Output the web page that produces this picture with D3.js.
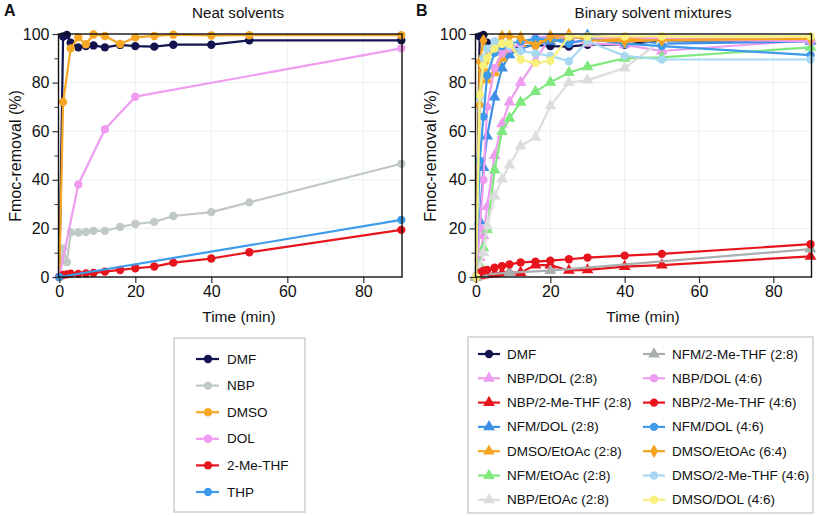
<!DOCTYPE html>
<html><head><meta charset="utf-8">
<script src="https://cdn.jsdelivr.net/npm/d3@7"></script>
<style>body{margin:0;background:#fff}svg{display:block;font-family:"Liberation Sans",Arial,sans-serif}</style>
</head><body><svg id="c" width="817" height="516"></svg>
<script>
// ---- data ----
const times = [0,1,2,3,5,7,9,12,16,20,25,30,40,50,90];
const xTicks = [0,20,40,60,80];
const yTicks = [0,20,40,60,80,100];
const yMinor = [10,30,50,70,90];

// Panel A: neat solvents
const namesA = ["DMF","NBP","DMSO","DOL","2-Me-THF","THP"];
const dmfA  = [0,99,99.6,96.4,94.5,95,95.3,94.5,95.5,95,94.8,95.6,95.6,97.4,97.4];
const nbpA  = [0,11.8,6.1,18.3,18.3,18.5,19,19,20.6,21.8,22.7,25.1,26.7,30.7,46.6];
const dmsoA = [0,72,null,94.1,98.6,95.8,99.8,99.2,95.9,98.6,99.2,99.7,99.4,99.5,99.5];
const dolA  = [0,null,null,null,38.1,null,null,60.8,null,74.2,null,null,null,null,94.1];
const mthfA = [0,0.8,1.1,1.4,1.3,1.5,1.7,2.2,2.9,3.6,4.3,5.9,7.6,10.2,19.4];
const thpA  = [0,null,null,null,null,null,null,null,null,null,null,null,null,null,23.5];
const colorsA = ["#13134f","#c0c9c5","#f5a623","#ee9cf0","#e8141c","#3d9be9"];
const valuesA = [dmfA,nbpA,dmsoA,dolA,mthfA,thpA];

// Panel B: binary mixtures
const namesB = ["DMF","NBP/DOL (2:8)","NBP/2-Me-THF (2:8)","NFM/DOL (2:8)","DMSO/EtOAc (2:8)","NFM/EtOAc (2:8)","NBP/EtOAc (2:8)",
                "NFM/2-Me-THF (2:8)","NBP/DOL (4:6)","NBP/2-Me-THF (4:6)","NFM/DOL (4:6)","DMSO/EtOAc (6:4)","DMSO/2-Me-THF (4:6)","DMSO/DOL (4:6)"];
const dmfB        = [0,99,99.6,96.4,94.5,95,95.3,94.5,95.5,95,94.8,95.6,95.6,97.4,97.4];
const nbpDol28    = [0,8,17,29,50,63,72,80,89,99,97.5,96.2,95.5,93,97.5];
const nbpMthf28   = [0,0.5,0.8,1,1.3,1.6,1.9,1.8,4.9,4.9,2.7,2.9,4.3,4.9,8.5];
const nfmDol28    = [0,23,45,58,74,86,91.4,94,96,97,98,99.5,98,96,97];
const dmsoEtoac28 = [0,71,86,81,84,90,94,96,97,98,99,98,98,98,98];
const nfmEtoac28  = [0,5,12,19.5,44,59.8,65.3,71.9,76.3,80.1,84.1,86.5,90,90.4,94.5];
const nbpEtoac28  = [0,4,10,21,33.3,40.3,46.1,53.9,57.5,70.4,80,81,86,97.5,98];
const nfmMthf28   = [0,null,1,null,null,null,1.8,null,null,2.6,null,null,null,null,11.5];
const nbpDol46    = [0,20,40,70,86,92,94,96,98.5,99,99,98,99,98,97];
const nbpMthf46   = [0,1.8,2.6,2.9,3.8,4.5,5.2,6,6.3,6.7,7.3,8,8.8,9.5,13.5];
const nfmDol46    = [0,48,66,83,92.3,95,96,97,98,98,96,98,96,95,91.3];
const dmsoEtoac64 = [0,88.6,97.3,89.6,95.6,99,99,98.6,94.8,99,99.7,97.5,97,97.5,98];
const dmsoMthf46  = [0,74,90,94,97,96,95,93,92,91,88.8,97,91,89.5,89.5];
const dmsoDol46   = [0,75,87,90,94,96,96,89.5,88,89,99,99,99,99,99];
const valuesB = [dmfB,nbpDol28,nbpMthf28,nfmDol28,dmsoEtoac28,nfmEtoac28,nbpEtoac28,nfmMthf28,nbpDol46,nbpMthf46,nfmDol46,dmsoEtoac64,dmsoMthf46,dmsoDol46];
const colorsB = ["#13134f","#ee9cf0","#e8141c","#3d8fe6","#f5a623","#7fe87f","#dcdede","#a9afae","#ee9cf0","#e8141c","#3d9be9","#f5a31e","#a9d8f2","#f7f07c"];
const shapesB = ["circle","triangle","triangle","triangle","triangle","triangle","triangle","triangle","circle","circle","circle","diamond","circle","circle"];

const svg = d3.select("#c");
svg.append("rect").attr("width",817).attr("height",516).attr("fill","#fff");

const symType = {circle:d3.symbolCircle, triangle:d3.symbolTriangle, diamond:d3.symbolDiamond};
const symSize = {circle:55, triangle:60, diamond:55};

function panel(cfg){
  const x = d3.scaleLinear().domain([0,90]).range([cfg.x0, cfg.x90]);
  const y = d3.scaleLinear().domain([0,100]).range([277,34]);
  const g = svg.append("g");
  g.selectAll(".gx").data(xTicks.slice(1)).join("line")
    .attr("x1",d=>x(d)).attr("x2",d=>x(d)).attr("y1",34).attr("y2",277)
    .attr("stroke","#e9eff6").attr("stroke-width",1);
  g.selectAll(".gy").data(yTicks.slice(1,-1)).join("line")
    .attr("x1",cfg.x0).attr("x2",cfg.right).attr("y1",d=>y(d)).attr("y2",d=>y(d))
    .attr("stroke","#e9eff6").attr("stroke-width",1);
  cfg.values.forEach((vals,i)=>{
    const pts = times.map((t,j)=>[t,vals[j]]).filter(p=>p[1]!=null);
    g.append("path").datum(pts)
      .attr("d", d3.line().x(p=>x(p[0])).y(p=>y(p[1])))
      .attr("fill","none").attr("stroke",cfg.colors[i]).attr("stroke-width",2.2).attr("stroke-linejoin","round");
    const sh = cfg.shapes ? cfg.shapes[i] : "circle";
    g.selectAll(null).data(pts).join("path")
      .attr("d", d3.symbol(symType[sh], symSize[sh]))
      .attr("transform", p=>`translate(${x(p[0])},${y(p[1])})`)
      .attr("fill", cfg.colors[i]);
  });
  const ax = g.append("g").attr("transform","translate(0,277)")
    .call(d3.axisBottom(x).tickValues(xTicks).tickSize(6).tickPadding(3));
  const ay = g.append("g").attr("transform",`translate(${cfg.left},0)`)
    .call(d3.axisLeft(y).tickValues(yTicks).tickSize(6).tickPadding(3));
  g.append("g").attr("transform",`translate(${cfg.left},0)`)
    .call(d3.axisLeft(y).tickValues(yMinor).tickSize(4).tickFormat(""))
    .call(s=>s.select(".domain").remove()).selectAll("line").attr("stroke","#333");
  [ax,ay].forEach(a=>{
    a.select(".domain").remove();
    a.selectAll("line").attr("stroke","#333").attr("stroke-width",1.2);
    a.selectAll("text").attr("font-size",16).attr("fill","#111").attr("font-family","Liberation Sans, Arial, sans-serif");
  });
  g.append("rect").attr("x",cfg.left).attr("y",34).attr("width",cfg.right-cfg.left).attr("height",243)
    .attr("fill","none").attr("stroke","#111").attr("stroke-width",1.4);
  g.append("text").attr("x",cfg.titleX).attr("y",18).attr("text-anchor","middle").attr("font-size",15.2).attr("fill","#111").text(cfg.title);
  g.append("text").attr("x",cfg.letterX).attr("y",16).attr("font-size",16).attr("font-weight","bold").attr("fill","#111").text(cfg.letter);
  g.append("text").attr("transform",`translate(${cfg.ylabX},156) rotate(-90)`).attr("text-anchor","middle")
    .attr("dominant-baseline","central").attr("font-size",16).attr("fill","#111").text("Fmoc-removal (%)");
  g.append("text").attr("x",cfg.xlabX).attr("y",322).attr("text-anchor","middle").attr("font-size",15.5).attr("fill","#111").text("Time (min)");
}

panel({x0:59.3, x90:401.3, left:58.5, right:402, values:valuesA, colors:colorsA, title:"Neat solvents", titleX:238, letter:"A", letterX:4, ylabX:15, xlabX:239});
panel({x0:476, x90:810.5, left:475.5, right:811.5, values:valuesB, colors:colorsB, shapes:shapesB, title:"Binary solvent mixtures", titleX:653, letter:"B", letterX:416, ylabX:430, xlabX:643});

// Legend A
const legA = svg.append("g");
legA.append("rect").attr("x",174).attr("y",338).attr("width",131).attr("height",174).attr("fill","#fff").attr("stroke","#c9d1d1").attr("stroke-width",1.5);
namesA.forEach((n,i)=>{
  const cy = 359 + i*26.6;
  legA.append("line").attr("x1",196).attr("x2",219).attr("y1",cy).attr("y2",cy).attr("stroke",colorsA[i]).attr("stroke-width",2.2);
  legA.append("circle").attr("cx",208).attr("cy",cy).attr("r",4.2).attr("fill",colorsA[i]);
  legA.append("text").attr("x",227).attr("y",cy).attr("dominant-baseline","central").attr("font-size",13.5).attr("fill","#111").text(n);
});

// Legend B
const legB = svg.append("g");
legB.append("rect").attr("x",468).attr("y",337).attr("width",345).attr("height",176).attr("fill","#fff").attr("stroke","#c9d1d1").attr("stroke-width",1.5);
namesB.forEach((n,i)=>{
  const col = i<7?0:1, row = i%7;
  const cy = 354 + row*24.3;
  const lx = col? 643:478, mx = col?654:489, tx = col?672:507;
  legB.append("line").attr("x1",lx).attr("x2",lx+22).attr("y1",cy).attr("y2",cy).attr("stroke",colorsB[i]).attr("stroke-width",2.2);
  legB.append("path").attr("d",d3.symbol(symType[shapesB[i]], symSize[shapesB[i]])).attr("transform",`translate(${mx},${cy})`).attr("fill",colorsB[i]);
  legB.append("text").attr("x",tx).attr("y",cy).attr("dominant-baseline","central").attr("font-size",13.5).attr("fill","#111").text(n);
});
</script></body></html>
